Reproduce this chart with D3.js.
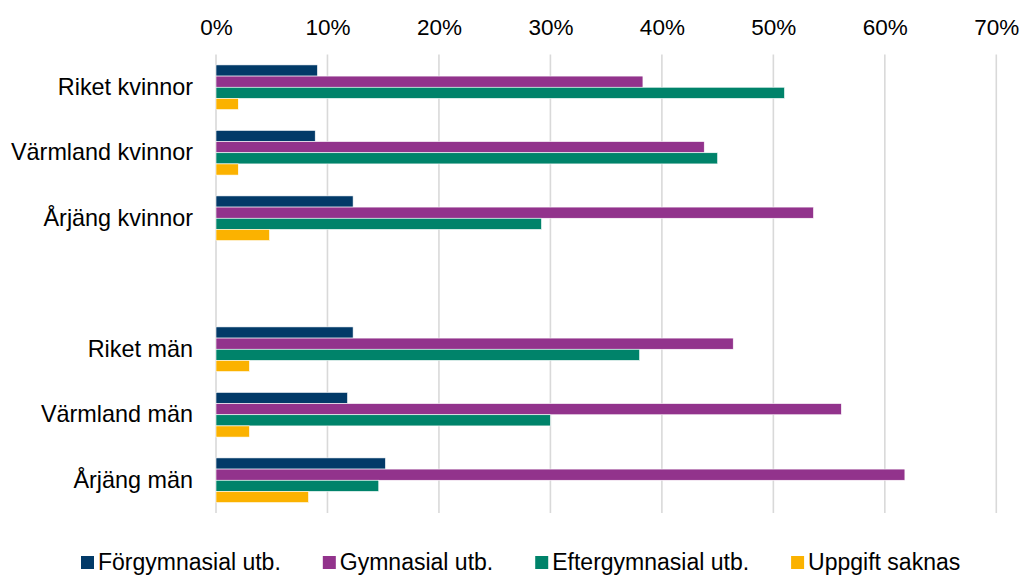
<!DOCTYPE html>
<html>
<head>
<meta charset="utf-8">
<script src="https://cdn.jsdelivr.net/npm/d3@7"></script>
<style>
  body { margin: 0; background: #fff; }
  svg text { font-family: "Liberation Sans", Arial, sans-serif; fill: #000; }
</style>
</head>
<body>
<svg id="chart" width="1023" height="575"></svg>
<script>
// Chart data
const categories = ["Riket kvinnor", "Värmland kvinnor", "Årjäng kvinnor", "", "Riket män", "Värmland män", "Årjäng män"];
const seriesNames = ["Förgymnasial utb.", "Gymnasial utb.", "Eftergymnasial utb.", "Uppgift saknas"];
const seriesColors = ["#023a68", "#92338c", "#00836a", "#fbb200"];
const forgymnasial = [9.1, 8.9, 12.3, null, 12.3, 11.8, 15.2];
const gymnasial = [38.3, 43.8, 53.6, null, 46.4, 56.1, 61.8];
const eftergymnasial = [51.0, 45.0, 29.2, null, 38.0, 30.0, 14.6];
const uppgiftSaknas = [2.0, 2.0, 4.8, null, 3.0, 3.0, 8.3];
const xTicks = [0, 10, 20, 30, 40, 50, 60, 70];

const seriesValues = [forgymnasial, gymnasial, eftergymnasial, uppgiftSaknas];

const svg = d3.select("#chart");
const plotLeft = 216, plotRight = 996.3, plotTop = 54.5, plotBottom = 513;

// Scales
const xScale = d3.scaleLinear().domain([0, 70]).range([plotLeft, plotRight]);
const yScale = d3.scaleBand()
    .domain(d3.range(categories.length))
    .range([plotTop, plotBottom])
    .paddingInner(0.318)
    .paddingOuter(0.159);
const ySub = d3.scaleBand()
    .domain(d3.range(seriesNames.length))
    .range([0, yScale.bandwidth()]);

// Gridlines
svg.append("g")
    .selectAll("line")
    .data(xTicks)
    .join("line")
    .attr("x1", d => xScale(d))
    .attr("x2", d => xScale(d))
    .attr("y1", plotTop)
    .attr("y2", plotBottom)
    .attr("stroke", "#d9d9d9")
    .attr("stroke-width", 1.6);

// Top axis labels
const xAxis = svg.append("g")
    .attr("transform", `translate(0, ${plotTop})`)
    .call(d3.axisTop(xScale).tickValues(xTicks).tickFormat(d => d + "%").tickSize(0).tickPadding(20));
xAxis.select(".domain").remove();
xAxis.selectAll("text")
    .style("font-size", "22.5px")
    .style("font-family", '"Liberation Sans", Arial, sans-serif')
    .attr("fill", "#000");

// Category labels
const yAxis = svg.append("g")
    .attr("transform", `translate(${plotLeft}, 0)`)
    .call(d3.axisLeft(yScale).tickFormat(i => categories[i]).tickSize(0).tickPadding(23));
yAxis.select(".domain").remove();
yAxis.selectAll("text")
    .style("font-size", "23.4px")
    .style("font-family", '"Liberation Sans", Arial, sans-serif')
    .attr("fill", "#000");

// Bars
const barData = [];
categories.forEach((c, i) => {
    seriesValues.forEach((vals, s) => {
        if (vals[i] != null) barData.push({cat: i, s: s, v: vals[i]});
    });
});

svg.append("g")
    .selectAll("rect")
    .data(barData)
    .join("rect")
    .attr("x", xScale(0))
    .attr("y", d => yScale(d.cat) + ySub(d.s))
    .attr("width", d => xScale(d.v) - xScale(0))
    .attr("height", ySub.bandwidth())
    .attr("fill", d => seriesColors[d.s])
    .attr("stroke", "#fff")
    .attr("stroke-width", 0.6);

// Legend
const legend = svg.append("g").attr("transform", "translate(81, 0)");
let lx = 0;
seriesNames.forEach((name, i) => {
    const item = legend.append("g").attr("transform", `translate(${lx}, 0)`);
    item.append("rect")
        .attr("x", 0)
        .attr("y", 556)
        .attr("width", 13)
        .attr("height", 13)
        .attr("fill", seriesColors[i]);
    const t = item.append("text")
        .attr("x", 17)
        .attr("y", 570)
        .style("font-size", "23px")
        .text(name);
    lx += 17 + t.node().getComputedTextLength() + 42;
});
</script>
</body>
</html>
